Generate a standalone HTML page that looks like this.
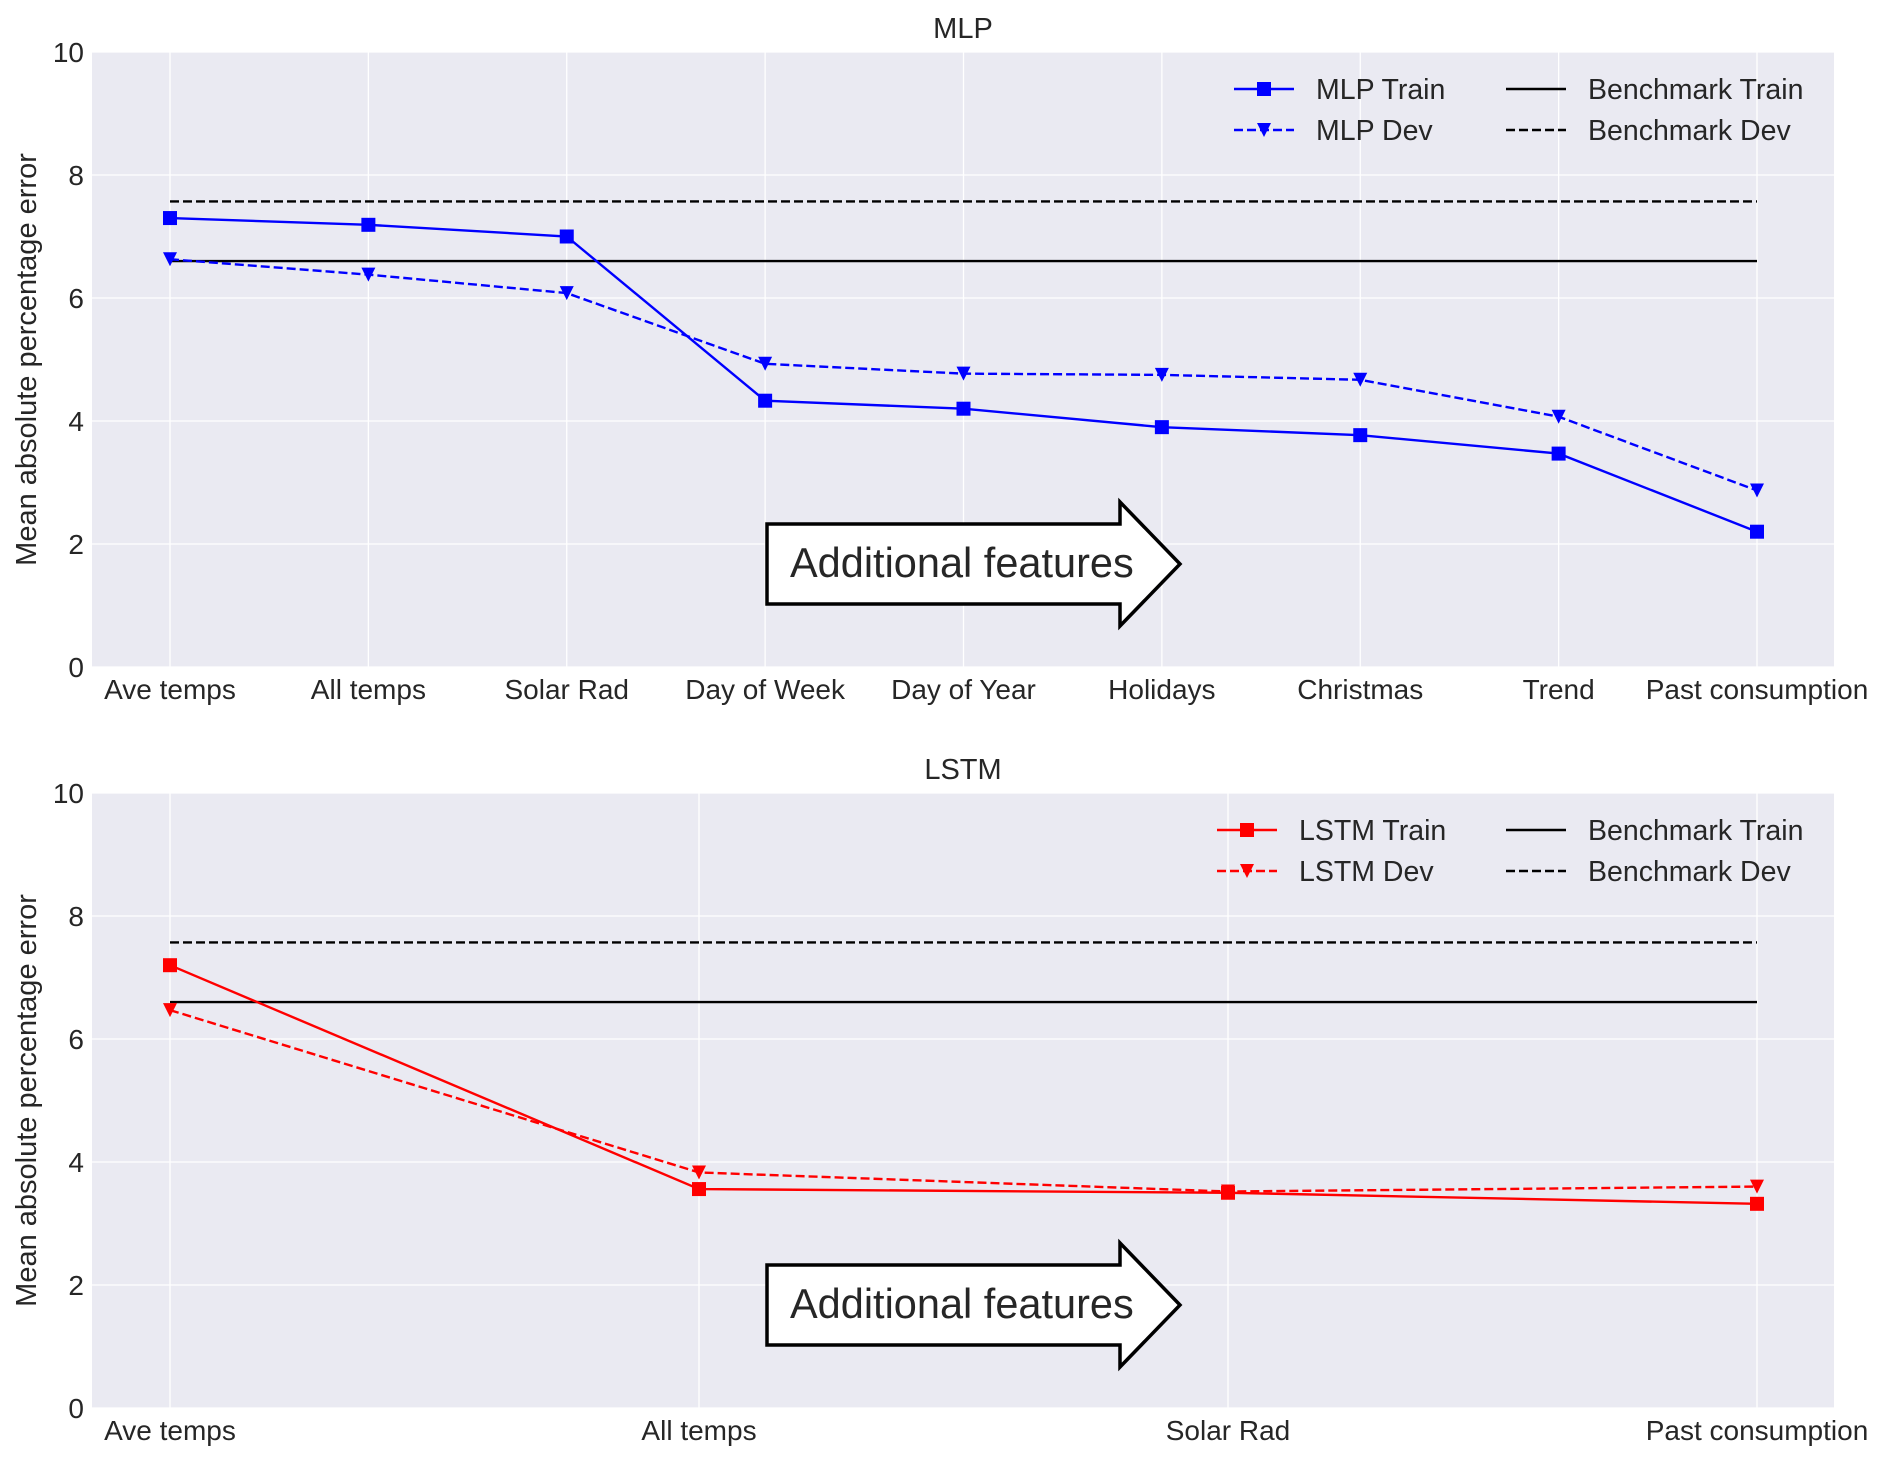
<!DOCTYPE html>
<html><head><meta charset="utf-8"><style>
body{margin:0;background:#fff}
svg{display:block;font-family:"Liberation Sans",Arial,sans-serif}
</style></head><body>
<svg id="chart" width="1890" height="1460" viewBox="0 0 1890 1460" xmlns="http://www.w3.org/2000/svg"></svg>
<script>
const mlpCategories = ["Ave temps","All temps","Solar Rad","Day of Week","Day of Year","Holidays","Christmas","Trend","Past consumption"];
const mlpTrain = [7.3,7.19,7.0,4.33,4.2,3.9,3.77,3.47,2.2];
const mlpDev = [6.63,6.38,6.08,4.93,4.77,4.75,4.67,4.07,2.87];
const lstmCategories = ["Ave temps","All temps","Solar Rad","Past consumption"];
const lstmTrain = [7.2,3.56,3.5,3.32];
const lstmDev = [6.47,3.83,3.52,3.6];
const benchTrain = 6.6;
const benchDev = 7.57;
const yTicks = [0,2,4,6,8,10];

const NS="http://www.w3.org/2000/svg";
const svg=document.getElementById('chart');
function mk(tag,attrs,parent){const e=document.createElementNS(NS,tag);for(const k in attrs)e.setAttribute(k,attrs[k]);(parent||svg).appendChild(e);return e;}

function panel(opts){
  const L=92,R=1834,T=opts.top,B=opts.top+615;
  const x0=170,x1=1757;
  const n=opts.cats.length;
  const xs=i=>x0+(x1-x0)*i/(n-1);
  const ys=v=>B-(B-T)*v/10;
  const g=mk('g',{});
  
  
  const bg=mk('rect',{x:L,y:T,width:R-L,height:B-T,fill:'#eaeaf2'},g);
  
  
  yTicks.forEach(t=>{
    const gl=mk('line',{x1:L,x2:R,y1:ys(t),y2:ys(t),stroke:'#fff','stroke-width':1.3},g);
    
    
    const tl=mk('text',{x:L-8,y:ys(t)+10,'text-anchor':'end','font-size':28,fill:'#262626'},g);
    tl.textContent=t;
    
    
  });
  opts.cats.forEach((c,i)=>{
    const gl=mk('line',{x1:xs(i),x2:xs(i),y1:T,y2:B,stroke:'#fff','stroke-width':1.3},g);
    
    
    const tl=mk('text',{x:xs(i),y:B+32,'text-anchor':'middle','font-size':28,fill:'#262626'},g);
    tl.textContent=c;
    
    
  });
  const title=mk('text',{x:(L+R)/2,y:T-14,'text-anchor':'middle','font-size':29,fill:'#262626'},g);
  title.textContent=opts.title;
  
  
  const yl=mk('text',{x:0,y:0,'text-anchor':'middle','font-size':29,fill:'#262626',transform:`translate(36,${(T+B)/2}) rotate(-90)`},g);
  yl.textContent='Mean absolute percentage error';
  
  
  const bt=mk('line',{x1:x0,x2:x1,y1:ys(benchTrain),y2:ys(benchTrain),stroke:'#000','stroke-width':2.4},g);
  
  
  const bd=mk('line',{x1:x0,x2:x1,y1:ys(benchDev),y2:ys(benchDev),stroke:'#000','stroke-width':2.4,'stroke-dasharray':'9,4'},g);
  
  
  const col=opts.color;
  const tp=mk('polyline',{points:opts.train.map((v,i)=>xs(i)+','+ys(v)).join(' '),fill:'none',stroke:col,'stroke-width':2.4},g);
  
  
  const dp=mk('polyline',{points:opts.dev.map((v,i)=>xs(i)+','+ys(v)).join(' '),fill:'none',stroke:col,'stroke-width':2.4,'stroke-dasharray':'9,4'},g);
  
  
  opts.train.forEach((v,i)=>{
    const m=mk('rect',{x:xs(i)-7,y:ys(v)-7,width:14,height:14,fill:col},g);
    
    
  });
  opts.dev.forEach((v,i)=>{
    const x=xs(i),y=ys(v);
    const m=mk('polygon',{points:`${x-7},${y-7} ${x+7},${y-7} ${x},${y+7}`,fill:col},g);
    
    
  });
  const a=T+450;
  const ar=mk('polygon',{points:`767,${a+22} 1120,${a+22} 1120,${a} 1180,${a+62} 1120,${a+124} 1120,${a+102} 767,${a+102}`,fill:'#fff',stroke:'#000','stroke-width':3.5},g);
  
  
  const at=mk('text',{x:790,y:a+75,'font-size':41.5,fill:'#262626'},g);
  at.textContent='Additional features';
  
  
  const lx=opts.legX, ly1=T+37, ly2=T+78;
  const items=[
    {x:lx,y:ly1,label:opts.title+' Train',c:col,dash:null,mk:'sq',n:'legend-train'},
    {x:lx,y:ly2,label:opts.title+' Dev',c:col,dash:'9,4',mk:'tri',n:'legend-dev'},
    {x:1506,y:ly1,label:'Benchmark Train',c:'#000',dash:null,mk:null,n:'legend-benchmark-train'},
    {x:1506,y:ly2,label:'Benchmark Dev',c:'#000',dash:'9,4',mk:null,n:'legend-benchmark-dev'}];
  items.forEach(it=>{
    const lg=mk('g',{},g);
    
    
    const at2={x1:it.x,x2:it.x+60,y1:it.y,y2:it.y,stroke:it.c,'stroke-width':2.4};
    if(it.dash)at2['stroke-dasharray']=it.dash;
    mk('line',at2,lg);
    const cx=it.x+30;
    if(it.mk==='sq')mk('rect',{x:cx-7,y:it.y-7,width:14,height:14,fill:it.c},lg);
    if(it.mk==='tri')mk('polygon',{points:`${cx-7},${it.y-7} ${cx+7},${it.y-7} ${cx},${it.y+7}`,fill:it.c},lg);
    const t=mk('text',{x:it.x+82,y:it.y+10,'font-size':28.5,fill:'#262626'},lg);
    t.textContent=it.label;
  });
}
panel({name:'mlp',title:'MLP',top:52,cats:mlpCategories,train:mlpTrain,dev:mlpDev,color:'#0000ff',legX:1234});
panel({name:'lstm',title:'LSTM',top:793,cats:lstmCategories,train:lstmTrain,dev:lstmDev,color:'#ff0000',legX:1217});
</script>
</body></html>
